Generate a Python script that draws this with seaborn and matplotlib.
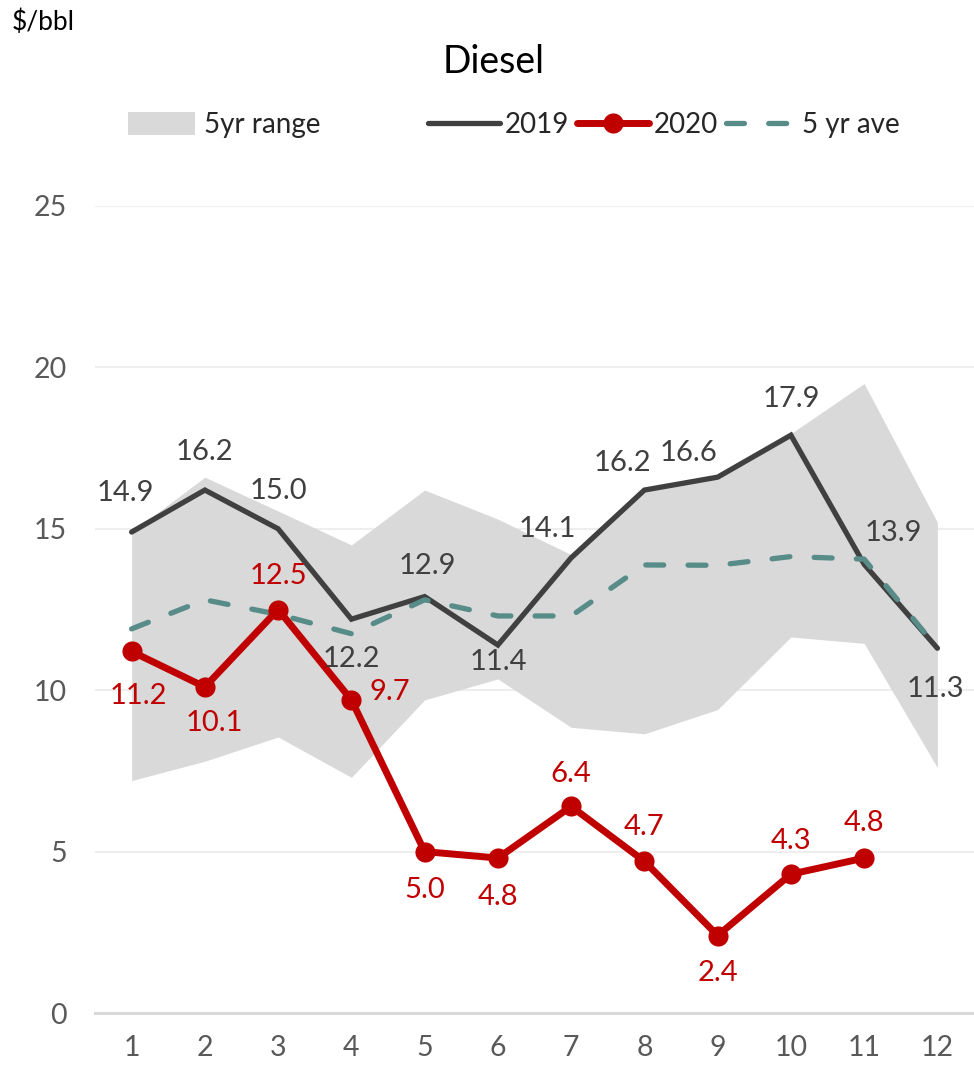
# Diesel crack spread chart: 2019 vs 2020 against the 5 year range / average
import numpy as np
import pandas as pd
import matplotlib
matplotlib.use("Agg")
import matplotlib.pyplot as plt
from matplotlib.lines import Line2D
from matplotlib.patches import Patch
import seaborn as sns

# Data
months = [1, 2, 3, 4, 5, 6, 7, 8, 9, 10, 11, 12]
diesel_2019 = [14.9, 16.2, 15.0, 12.2, 12.9, 11.4, 14.1, 16.2, 16.6, 17.9, 13.9, 11.3]
diesel_2020 = [11.2, 10.1, 12.5, 9.7, 5.0, 4.8, 6.4, 4.7, 2.4, 4.3, 4.8]
ave_5yr = [11.9, 12.8, 12.35, 11.75, 12.8, 12.3, 12.3, 13.88, 13.87, 14.14, 14.06, 11.3]
range_low = [7.2, 7.8, 8.55, 7.3, 9.7, 10.35, 8.85, 8.65, 9.4, 11.65, 11.45, 7.6]
range_high = [14.9, 16.6, 15.55, 14.5, 16.2, 15.3, 14.2, 16.2, 16.6, 17.95, 19.5, 15.2]
y_ticks = [0, 5, 10, 15, 20, 25]

# styling
col_2019 = "#404040"
col_2020 = "#C00000"
col_ave = "#588C88"
col_band = "#D9D9D9"
col_tick = "#595959"

sns.set_style("white")
plt.rcParams["font.family"] = ["Lato", "DejaVu Sans"]

fig = plt.figure(figsize=(9.74, 10.70), dpi=100)
ax = fig.add_axes([95 / 974, 57 / 1070, 0.9025, 807 / 1070])

# 5yr range band
ax.fill_between(months, range_low, range_high, color=col_band, linewidth=0, zorder=1)

df19 = pd.DataFrame({"month": months, "value": diesel_2019})
df20 = pd.DataFrame({"month": months[:len(diesel_2020)], "value": diesel_2020})
dfave = pd.DataFrame({"month": months, "value": ave_5yr})

sns.lineplot(data=df19, x="month", y="value", ax=ax, color=col_2019, linewidth=3.8,
             solid_joinstyle="miter", zorder=3)
sns.lineplot(data=dfave, x="month", y="value", ax=ax, color=col_ave, linewidth=3.8,
             linestyle=(0, (3.4, 4.6)), dash_capstyle="round", zorder=4)
sns.lineplot(data=df20, x="month", y="value", ax=ax, color=col_2020, linewidth=5.0,
             marker="o", markersize=14.5, markeredgewidth=0, zorder=5)

# data labels (offsets in pixels from the point)
off_2019 = [(-6, 39), (0, 38), (0, 38), (0, -40), (3, 31), (0, -17),
            (-24, 29), (-22, 27), (-29, 24), (0, 36), (29, 31), (-2, -41)]
off_2020 = [(7, -45), (9, -36), (0, 34), (38, 8), (0, -38), (0, -39),
            (0, 32), (0, 34), (0, -37), (0, 33), (0, 35)]

for m, v, (dx, dy) in zip(months, diesel_2019, off_2019):
    ax.annotate(f"{v:.1f}", (m, v), xytext=(dx, dy), textcoords="offset pixels",
                ha="center", va="center", fontsize=21, color=col_2019, zorder=6)
for m, v, (dx, dy) in zip(months, diesel_2020, off_2020):
    ax.annotate(f"{v:.1f}", (m, v), xytext=(dx, dy), textcoords="offset pixels",
                ha="center", va="center", fontsize=21, color=col_2020, zorder=6)

# axes
ax.set_xlim(0.5, 12.5)
ax.set_ylim(0, 25)
ax.set_xticks(months)
ax.set_yticks(y_ticks)
ax.set_xlabel("")
ax.set_ylabel("")
ax.yaxis.grid(True, color="#EEEEEE", linewidth=1.5, zorder=0)
ax.set_axisbelow(True)
for s in ["top", "right", "left"]:
    ax.spines[s].set_visible(False)
ax.spines["bottom"].set_color("#D9D9D9")
ax.spines["bottom"].set_linewidth(2.2)
ax.tick_params(axis="y", length=0, pad=20, labelsize=20.5, labelcolor=col_tick)
ax.tick_params(axis="x", length=0, pad=16, labelsize=20.5, labelcolor=col_tick)

# titles
fig.text(494 / 974, 1 - 62 / 1070, "Diesel", ha="center", va="center", fontsize=27, color="black")
fig.text(12 / 974, 1 - 22 / 1070, "$/bbl", ha="left", va="center", fontsize=19, color="black")

# legends
h_range = [Patch(facecolor=col_band, edgecolor="none")]
leg1 = fig.legend(h_range, ["5yr range"], loc="center left",
                  bbox_to_anchor=(128 / 974, 1 - 125 / 1070), frameon=False,
                  fontsize=20, handlelength=2.4, handleheight=0.9, handletextpad=0.35,
                  borderpad=0, borderaxespad=0)
h_lines = [Line2D([], [], color=col_2019, linewidth=3.8),
           Line2D([], [], color=col_2020, linewidth=5.0, marker="o", markersize=14.5,
                  markeredgewidth=0),
           Line2D([], [], color=col_ave, linewidth=3.8, linestyle=(0, (3.4, 4.6)),
                  dash_capstyle="round")]
leg2 = fig.legend(h_lines, ["2019", "2020", "5 yr ave"], loc="center left",
                  bbox_to_anchor=(428 / 974, 1 - 125 / 1070), frameon=False,
                  fontsize=20, ncol=3, handlelength=2.6, handletextpad=0.15,
                  columnspacing=0.3, borderpad=0, borderaxespad=0)

fig.savefig("out.png", dpi=100)
